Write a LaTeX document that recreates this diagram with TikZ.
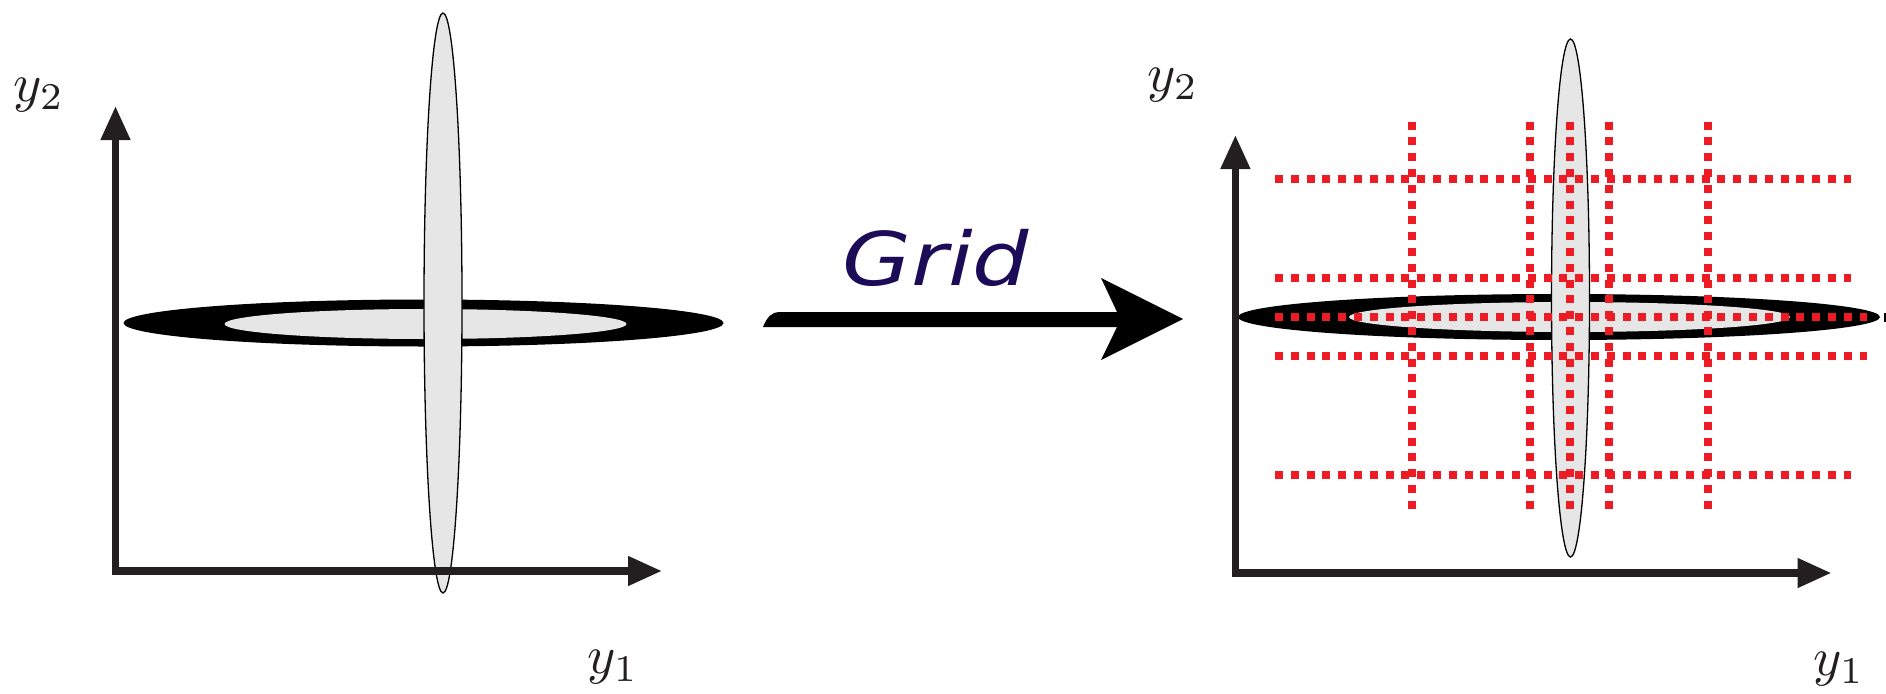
\documentclass[tikz,border=0pt]{standalone}
\usepackage{fontspec}
\newfontfamily\gridfont{DejaVu Sans}
\usetikzlibrary{arrows.meta}
\definecolor{axisgray}{RGB}{35,31,32}
\definecolor{lightfill}{RGB}{230,230,230}
\definecolor{gridred}{RGB}{237,28,36}
\definecolor{gridnavy}{RGB}{28,12,88}
\tikzset{
  axisline/.style={draw=axisgray, line width=7.5pt, line join=miter,
    {Triangle[length=34pt,width=28pt]}-{Triangle[length=34pt,width=28pt]}},
  lbl/.style={inner sep=0pt, scale=5.4, text=axisgray},
  outerell/.style={fill=black},
  innerell/.style={fill=lightfill},
  vertell/.style={fill=lightfill, draw=black, line width=1.3pt},
  reddots/.style={draw=gridred, line width=8pt, dash pattern=on 8pt off 7.8pt},
}
\begin{document}
\begin{tikzpicture}[x=1pt,y=-1pt]
\useasboundingbox (0,0) rectangle (1886,693);
% ---------- left panel ----------
\fill[outerell] (423.5,323) ellipse [x radius=300, y radius=23.5];
\fill[innerell] (425.5,324) ellipse [x radius=201, y radius=15];
\filldraw[vertell] (443,303) ellipse [x radius=19, y radius=290];
\coordinate (LY) at (115.5,106);
\coordinate (LO) at (115.5,571);
\coordinate (LX) at (662,571);
\draw[axisline] (LY) -- (LO) -- (LX);
\node[lbl] (ly2) at (39,95) {$y_2$};
\node[lbl] (ly1) at (613,667) {$y_1$};
% ---------- middle arrow ----------
\coordinate (A0) at (763,327);
\coordinate (A1) at (779,312);
\coordinate (A2) at (1117,312);
\coordinate (A3) at (1101,278);
\coordinate (A4) at (1183,319);
\coordinate (A5) at (1101,360);
\coordinate (A6) at (1117,327);
\fill[black] (A0) .. controls (767,317) and (772,312) .. (A1) -- (A2) -- (A3) -- (A4) -- (A5) -- (A6) -- cycle;
\node[anchor=base, inner sep=0pt, text=gridnavy, xscale=1.2,
  font=\gridfont\itshape\fontsize{74}{80}\selectfont] (grid) at (936,285) {Grid};
% ---------- right panel ----------
\fill[outerell] (1559,317) ellipse [x radius=321, y radius=23];
\fill[innerell] (1569.5,317) ellipse [x radius=220.5, y radius=15];
\filldraw[vertell] (1570.5,298) ellipse [x radius=19, y radius=259];
\fill[black] (1884,313) rectangle (1886,322);
\foreach \yy/\xe in {179/1851, 278/1851, 317/1867, 356/1867, 475/1851}
  \draw[reddots] (1275,\yy) -- (\xe,\yy);
\foreach \xx in {1412,1530,1570,1609,1708}
  \draw[reddots] (\xx,121.5) -- (\xx,514);
\coordinate (RY) at (1235.4,135);
\coordinate (RO) at (1235.4,573);
\coordinate (RX) at (1831.5,573);
\draw[axisline] (RY) -- (RO) -- (RX);
\node[lbl] (ry2) at (1173,85) {$y_2$};
\node[lbl] (ry1) at (1839,669) {$y_1$};
\end{tikzpicture}
\end{document}
